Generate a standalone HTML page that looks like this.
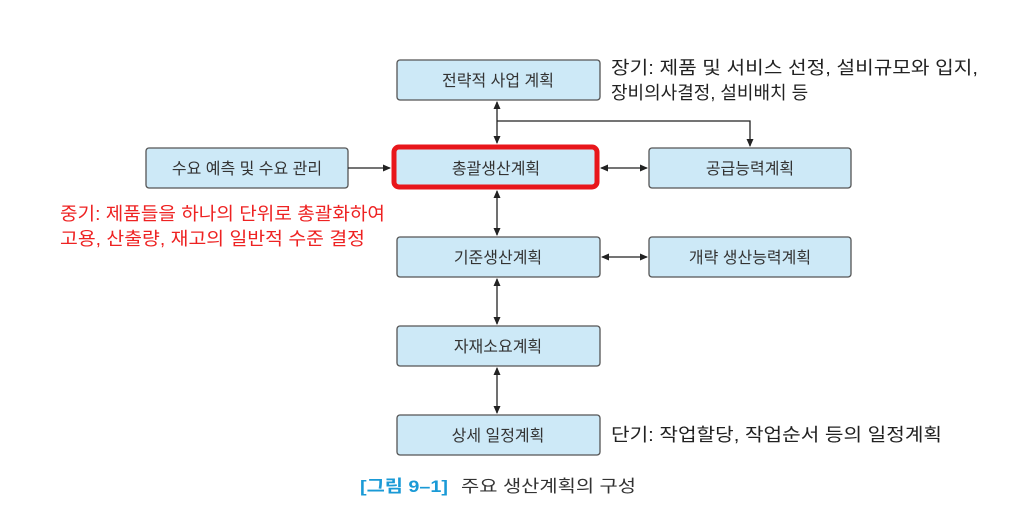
<!DOCTYPE html>
<html><head><meta charset="utf-8"><style>
html,body{margin:0;padding:0;background:#fff;}
svg text{font-family:"Liberation Sans","Noto Sans CJK KR",sans-serif;}
</style></head><body>
<svg width="1022" height="514" viewBox="0 0 1022 514" xmlns="http://www.w3.org/2000/svg">
<defs>
<marker id="a" markerWidth="8" markerHeight="8" refX="7" refY="4" orient="auto-start-reverse" markerUnits="userSpaceOnUse">
<path d="M0,0.5 L8,4 L0,7.5 Z" fill="#222"/></marker>
</defs>
<g fill="#cde9f7" stroke="#555" stroke-width="1.3">
<rect x="397" y="60" width="203" height="40" rx="3"/>
<rect x="146" y="148" width="202" height="40" rx="3"/>
<rect x="649" y="148" width="202" height="40" rx="3"/>
<rect x="397" y="237" width="203" height="40" rx="3"/>
<rect x="649" y="237" width="202" height="40" rx="3"/>
<rect x="397" y="326" width="203" height="40" rx="3"/>
<rect x="397" y="415" width="203" height="40" rx="3"/>
</g>
<rect x="394" y="147" width="203" height="40" rx="5" fill="#cde9f7" stroke="#e8161b" stroke-width="5"/>
<g stroke="#222" stroke-width="1.3" fill="none">
<line x1="497" y1="102" x2="497" y2="143" marker-start="url(#a)" marker-end="url(#a)"/>
<polyline points="497,121 750,121 750,146" marker-end="url(#a)"/>
<line x1="348" y1="168" x2="390" y2="168" marker-end="url(#a)"/>
<line x1="601" y1="168" x2="647" y2="168" marker-start="url(#a)" marker-end="url(#a)"/>
<line x1="497" y1="191" x2="497" y2="235" marker-start="url(#a)" marker-end="url(#a)"/>
<line x1="602" y1="257" x2="647" y2="257" marker-start="url(#a)" marker-end="url(#a)"/>
<line x1="497" y1="279" x2="497" y2="324" marker-start="url(#a)" marker-end="url(#a)"/>
<line x1="497" y1="368" x2="497" y2="413" marker-start="url(#a)" marker-end="url(#a)"/>
</g>
<g font-size="16" fill="#333" text-anchor="middle">
<text x="498" y="86">전략적 사업 계획</text>
<text x="247" y="174">수요 예측 및 수요 관리</text>
<text x="496" y="174">총괄생산계획</text>
<text x="750" y="174">공급능력계획</text>
<text x="498" y="263">기준생산계획</text>
<text x="750" y="263">개략 생산능력계획</text>
<text x="498" y="352">자재소요계획</text>
<text x="498" y="441">상세 일정계획</text>
</g>
<g font-size="18" fill="#222">
<text x="611" y="74" textLength="367" lengthAdjust="spacingAndGlyphs">장기: 제품 및 서비스 선정, 설비규모와 입지,</text>
<text x="611" y="99">장비의사결정, 설비배치 등</text>
<text x="611" y="441" textLength="331" lengthAdjust="spacingAndGlyphs">단기: 작업할당, 작업순서 등의 일정계획</text>
</g>
<g font-size="18" fill="#ee2222">
<text x="60" y="220" textLength="325" lengthAdjust="spacingAndGlyphs">중기: 제품들을 하나의 단위로 총괄화하여</text>
<text x="60" y="245" textLength="305" lengthAdjust="spacingAndGlyphs">고용, 산출량, 재고의 일반적 수준 결정</text>
</g>
<text x="360" y="492" font-size="17" font-weight="bold" fill="#1a9ad6" textLength="88" lengthAdjust="spacingAndGlyphs">[그림 9–1]</text>
<text x="461" y="492" font-size="17" fill="#333" textLength="175" lengthAdjust="spacingAndGlyphs">주요 생산계획의 구성</text>
</svg>
</body></html>
